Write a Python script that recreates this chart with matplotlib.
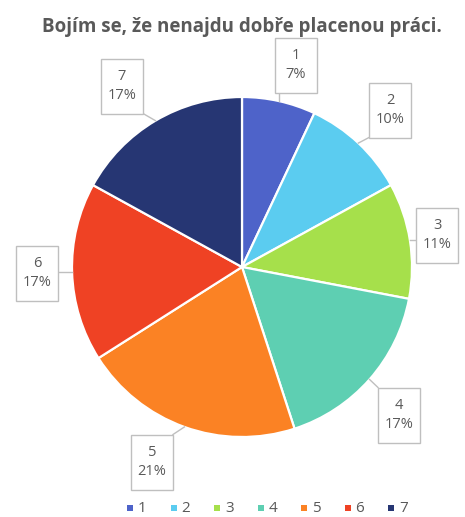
import matplotlib
matplotlib.use("Agg")
import matplotlib.pyplot as plt
from matplotlib.patches import Rectangle
import numpy as np

categories = ["1", "2", "3", "4", "5", "6", "7"]
values = [7, 10, 11, 17, 21, 17, 17]
colors = ["#4E63C9", "#5BCCF0", "#A6E04B", "#5ECFB2", "#FB8224", "#EF4224", "#263673"]
title = "Bojím se, že nenajdu dobře placenou práci."

W, H = 465, 517
plt.rcParams['font.family'] = ['Open Sans', 'DejaVu Sans']
fig = plt.figure(figsize=(W / 100, H / 100), dpi=100)
ax = fig.add_axes([0, 0, 1, 1])

cx, cy, r = 242, H - 267, 170
wedges, _ = ax.pie(values, colors=colors, startangle=90, counterclock=False,
                   center=(cx, cy), radius=r, frame=True,
                   wedgeprops=dict(edgecolor='white', linewidth=1.6))
ax.set_xlim(0, W)
ax.set_ylim(0, H)
ax.axis('off')

# label box centers (pixel coords, y from top)
boxes = [(296, 65), (390, 110), (437, 235), (399, 415), (152, 462), (37, 273), (122, 86)]
bw, bh = 42, 55
total = sum(values)
cum = 0
for i, (v, (bx, by)) in enumerate(zip(values, boxes)):
    mid = 90 - 360 * (cum + v / 2) / total
    cum += v
    byy = H - by
    ang = np.deg2rad(mid)
    ex, ey = cx + r * np.cos(ang), cy + r * np.sin(ang)
    px = min(max(ex, bx - bw / 2), bx + bw / 2)
    py = min(max(ey, byy - bh / 2), byy + bh / 2)
    ax.plot([px, ex], [py, ey], color='#BFBFBF', lw=1, zorder=3)
    ax.add_patch(Rectangle((bx - bw / 2, byy - bh / 2), bw, bh, facecolor='white',
                           edgecolor='#BFBFBF', lw=1, zorder=4))
    ax.text(bx, byy, f"{categories[i]}\n{v}%", ha='center', va='center',
            fontsize=10.5, color='#595959', linespacing=1.45, zorder=5)

fig.text(242 / W, 1 - 27 / H, title, ha='center', va='center', fontsize=13.5,
         fontweight='bold', color='#595959')

# legend
lx0 = 127
step = 43.5
for i, (c, lab) in enumerate(zip(colors, categories)):
    x = lx0 + i * step
    ax.add_patch(Rectangle((x, H - 511), 6, 6, facecolor=c, edgecolor='none'))
    ax.text(x + 11, H - 508, lab, ha='left', va='center', fontsize=11, color='#595959')

fig.savefig("out.png", dpi=100)
